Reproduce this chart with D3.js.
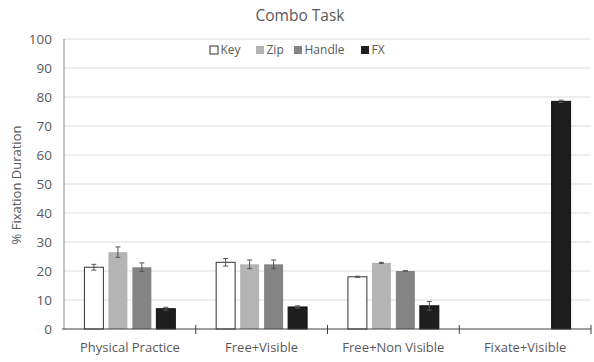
<!DOCTYPE html>
<html><head><meta charset="utf-8">
<script src="https://cdn.jsdelivr.net/npm/d3@7"></script>
<style>body{margin:0;background:#fff;} text{font-family:"Open Sans",Lato,sans-serif;}</style>
</head><body><svg id="c" width="594" height="362"></svg>
<script>
const categories = ["Physical Practice","Free+Visible","Free+Non Visible","Fixate+Visible"];
const seriesNames = ["Key","Zip","Handle","FX"];
const keyVals = [21.3, 23.0, 18.0, 0];
const zipVals = [26.5, 22.3, 22.8, 0];
const handleVals = [21.3, 22.3, 20.0, 0];
const fxVals = [7.0, 7.6, 8.0, 78.5];
const keyErr = [1.0, 1.3, 0.2, 0];
const zipErr = [1.8, 1.5, 0.2, 0];
const handleErr = [1.5, 1.5, 0.1, 0];
const fxErr = [0.5, 0.4, 1.5, 0.4];
const yTicks = [0,10,20,30,40,50,60,70,80,90,100];
const colors = ["#ffffff","#b4b4b4","#848484","#1e1e1e"];

const values = [keyVals, zipVals, handleVals, fxVals];
const errs = [keyErr, zipErr, handleErr, fxErr];
const svg = d3.select("#c");
const m = {l:64, r:3, t:39, b:33};
const W = 594, H = 362;
const x0 = d3.scaleBand().domain(categories).range([m.l, W-m.r]);
const x1 = d3.scaleBand().domain(seriesNames).range([0, x0.bandwidth()]).paddingInner(0.167).paddingOuter(0.83);
const y = d3.scaleLinear().domain([0,100]).range([H-m.b, m.t]);

svg.append("g").selectAll("line").data(yTicks.filter(d=>d>0)).join("line")
  .attr("x1", m.l).attr("x2", W-m.r).attr("y1", d=>y(d)).attr("y2", d=>y(d))
  .attr("stroke","#dcdcdc").attr("stroke-width",1);

svg.append("g").selectAll("text").data(yTicks).join("text")
  .attr("x", 52).attr("y", d=>y(d)).attr("dy","0.35em").attr("text-anchor","end")
  .attr("font-size",13.5).attr("fill","#595959").text(d=>d);

svg.append("line").attr("x1",m.l).attr("x2",m.l).attr("y1",y(100)).attr("y2",y(0)).attr("stroke","#8a8a8a");

const data = [];
categories.forEach((c,i)=>seriesNames.forEach((s,j)=>data.push({c,s,j,v:values[j][i],e:errs[j][i]})));
const bars = data.filter(d=>d.v>0);
svg.append("g").selectAll("rect").data(bars).join("rect")
  .attr("x", d=>x0(d.c)+x1(d.s)+0.5).attr("width", x1.bandwidth()-1)
  .attr("y", d=>y(d.v)).attr("height", d=>y(0)-y(d.v))
  .attr("fill", d=>colors[d.j]).attr("stroke", d=>d.j===0?"#333":(d.j===3?"#111":"none")).attr("stroke-width",1);

const eg = svg.append("g").attr("stroke","#555").attr("stroke-width",1);
bars.forEach(d=>{
  const cx = x0(d.c)+x1(d.s)+x1.bandwidth()/2;
  const y1 = y(d.v+d.e), y2 = y(d.v-d.e);
  eg.append("line").attr("x1",cx).attr("x2",cx).attr("y1",y1).attr("y2",y2);
  eg.append("line").attr("x1",cx-2.5).attr("x2",cx+2.5).attr("y1",y1).attr("y2",y1);
  eg.append("line").attr("x1",cx-2.5).attr("x2",cx+2.5).attr("y1",y2).attr("y2",y2);
});

const xa = svg.append("g").attr("transform",`translate(0,${y(0)})`);
xa.append("line").attr("x1",m.l-2).attr("x2",W-m.r).attr("stroke","#404040");
xa.selectAll(".tk").data(categories).join("line").attr("class","tk")
  .attr("x1",d=>x0(d)+x0.bandwidth()).attr("x2",d=>x0(d)+x0.bandwidth())
  .attr("y1",-4).attr("y2",5).attr("stroke","#404040");
xa.selectAll("text").data(categories).join("text")
  .attr("x",d=>x0(d)+x0.bandwidth()/2).attr("y",23).attr("text-anchor","middle")
  .attr("font-size",13).attr("fill","#595959").text(d=>d);

svg.append("text").attr("x",300).attr("y",21).attr("text-anchor","middle")
  .attr("font-size",15.5).attr("fill","#595959").text("Combo Task");

svg.append("text").attr("transform","translate(21,185) rotate(-90)").attr("text-anchor","middle")
  .attr("font-size",13).attr("fill","#595959").text("% Fixation Duration");

const legX = [210, 256, 294, 361];
const lg = svg.append("g");
seriesNames.forEach((s,j)=>{
  lg.append("rect").attr("x",legX[j]).attr("y",46).attr("width",8).attr("height",8)
    .attr("fill",colors[j]).attr("stroke", j===0?"#333":"none");
  lg.append("text").attr("x",legX[j]+10.5).attr("y",50).attr("dy","0.35em")
    .attr("font-size",12).attr("fill","#595959").text(s);
});
</script></body></html>
